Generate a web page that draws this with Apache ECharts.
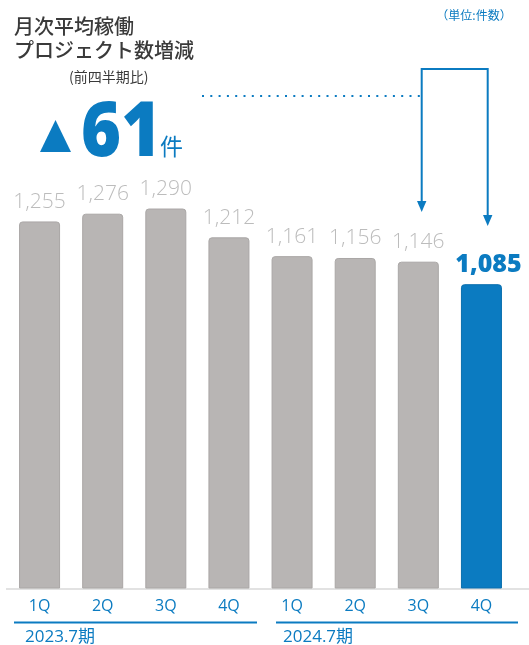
<!DOCTYPE html>
<html><head><meta charset="utf-8">
<script src="https://cdn.jsdelivr.net/npm/echarts@6/dist/echarts.min.js"></script>
<style>html,body{margin:0;padding:0;background:#fff}#c{width:529px;height:645px}</style>
</head><body><div id="c"></div>
<script>
const quarters = ['1Q','2Q','3Q','4Q','1Q','2Q','3Q','4Q'];
const values = [1255,1276,1290,1212,1161,1156,1146,1085];
const periods = ['2023.7期','2024.7期'];
const titleLines = ['月次平均稼働','プロジェクト数増減'];
const subTitle = '(前四半期比)';
const changeValue = '61';
const changeUnit = '件';
const unitText = '（単位:件数）';

const BLUE = '#0b7bc1';
const GRAY = '#b8b5b4';
const NUMFONT = '"Open Sans", "Lato", sans-serif';
const JPFONT = '"Noto Sans CJK JP", sans-serif';

const chart = echarts.init(document.getElementById('c'), null, {renderer: 'canvas'});

const data = values.map((v, i) => {
  const last = i === values.length - 1;
  return {
    value: v,
    itemStyle: last ? {color: BLUE, borderColor: '#0a6fae'} : {},
    label: last ? {color: BLUE, fontWeight: 800, fontSize: 25, fontFamily: NUMFONT, distance: 7, offset: [7, 0]} : {}
  };
});

chart.setOption({
  animation: false,
  grid: {left: 8, right: 16, top: 100, bottom: 57},
  xAxis: {
    type: 'category',
    data: quarters.map((q, i) => String(i)),
    axisLine: {show: false},
    axisTick: {show: false},
    axisLabel: {
      formatter: (v) => quarters[+v],
      color: BLUE, fontSize: 16, fontFamily: NUMFONT, margin: 10
    }
  },
  yAxis: {type: 'value', min: 262, max: 1584, show: false, splitLine: {show: false}},
  series: [{
    type: 'bar',
    data: data,
    barWidth: 41,
    itemStyle: {color: GRAY, borderColor: '#aaa7a6', borderWidth: 1, borderRadius: [3, 3, 0, 0]},
    label: {
      show: true, position: 'top', distance: 9,
      formatter: (p) => p.value.toLocaleString('en-US'),
      color: '#bcbcbc', fontSize: 21, fontWeight: 300, fontFamily: NUMFONT
    }
  }],
  graphic: [
    {type: 'text', x: 14, y: 26, style: {text: titleLines[0], font: '500 20px ' + JPFONT, fill: '#3a3a3a', textVerticalAlign: 'middle'}},
    {type: 'text', x: 14, y: 50, style: {text: titleLines[1], font: '500 20px ' + JPFONT, fill: '#3a3a3a', textVerticalAlign: 'middle'}},
    {type: 'text', x: 69, y: 77, style: {text: subTitle, font: '400 14px ' + JPFONT, fill: '#3a3a3a', textVerticalAlign: 'middle'}},
    {type: 'polygon', shape: {points: [[40, 152], [71, 152], [55.5, 120]]}, style: {fill: BLUE}},
    {type: 'text', x: 81, y: 173, scaleX: 0.89, style: {text: changeValue, font: '800 77px ' + NUMFONT, fill: BLUE, textVerticalAlign: 'bottom'}},
    {type: 'text', x: 160, y: 146, style: {text: changeUnit, font: '400 23px ' + JPFONT, fill: BLUE, textVerticalAlign: 'middle'}},
    {type: 'text', x: 474, y: 15, style: {text: unitText, font: '400 12px ' + JPFONT, fill: BLUE, textAlign: 'center', textVerticalAlign: 'middle'}},
    {type: 'line', shape: {x1: 202, y1: 96, x2: 420, y2: 96}, style: {stroke: BLUE, lineWidth: 2, lineDash: [2, 6.3]}},
    {type: 'polyline', shape: {points: [[421.7, 203], [421.7, 69], [487.7, 69], [487.7, 217]]}, style: {stroke: BLUE, lineWidth: 2, fill: null}},
    {type: 'polygon', shape: {points: [[417, 201], [426.4, 201], [421.7, 212]]}, style: {fill: BLUE}},
    {type: 'polygon', shape: {points: [[483, 215], [492.4, 215], [487.7, 226]]}, style: {fill: BLUE}},
    {type: 'line', shape: {x1: 6, y1: 589, x2: 529, y2: 589}, style: {stroke: '#e2e2e2', lineWidth: 2}},
    {type: 'line', shape: {x1: 14, y1: 622.5, x2: 257, y2: 622.5}, style: {stroke: BLUE, lineWidth: 2}},
    {type: 'line', shape: {x1: 276, y1: 622.5, x2: 518, y2: 622.5}, style: {stroke: BLUE, lineWidth: 2}},
    {type: 'text', x: 25, y: 637, style: {text: periods[0], font: '400 17px ' + NUMFONT + ', ' + JPFONT, fill: BLUE, textVerticalAlign: 'middle'}},
    {type: 'text', x: 283, y: 637, style: {text: periods[1], font: '400 17px ' + NUMFONT + ', ' + JPFONT, fill: BLUE, textVerticalAlign: 'middle'}}
  ]
});
</script>
</body></html>
